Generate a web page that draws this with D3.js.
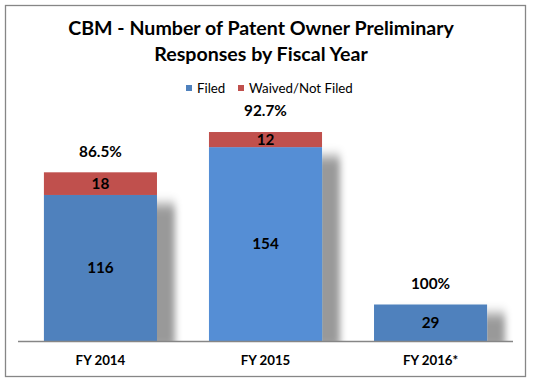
<!DOCTYPE html>
<html><head><meta charset="utf-8">
<script src="https://cdn.jsdelivr.net/npm/d3@7"></script>
<style>body{margin:0;background:#fff}svg{display:block}text{font-family:Lato,"Open Sans",sans-serif}</style>
</head><body>
<svg id="c" width="533" height="383"></svg>
<script>
const categories = ["FY 2014", "FY 2015", "FY 2016*"];
const filed = [116, 154, 29];
const waived = [18, 12, 0];
const pctLabels = ["86.5%", "92.7%", "100%"];
const filedColors = ["#4F81BD", "#558ED5", "#4F81BD"];
const titleLines = ["CBM - Number of Patent Owner Preliminary", "Responses by Fiscal Year"];
const legendItems = [{name: "Filed", color: "#4F81BD"}, {name: "Waived/Not Filed", color: "#C0504D"}];

const svg = d3.select("#c");
const plot = {left: 18, right: 513, top: 114.4, bottom: 341};

const defs = svg.append("defs");
const f = defs.append("filter").attr("id", "sh").attr("x", "-40%").attr("y", "-40%").attr("width", "180%").attr("height", "180%");
f.append("feDropShadow").attr("dx", 18).attr("dy", 9).attr("stdDeviation", "3.5 6")
  .attr("flood-color", "#000").attr("flood-opacity", 0.4);
defs.append("clipPath").attr("id", "pc").append("rect")
  .attr("x", plot.left).attr("y", 0).attr("width", plot.right - plot.left).attr("height", plot.bottom);

svg.append("rect").attr("x", 5.5).attr("y", 5.5).attr("width", 520).attr("height", 371)
  .attr("fill", "#fff").attr("stroke", "#868686").attr("stroke-width", 1.3);

const x = d3.scaleBand().domain(categories).range([plot.left, plot.right]).paddingInner(0.315).paddingOuter(0.157);
const y = d3.scaleLinear().domain([0, 180]).range([plot.bottom, plot.top]);

// title
svg.append("g").selectAll("text").data(titleLines).join("text")
  .attr("x", 261).attr("y", (d, i) => 35 + i * 26)
  .attr("text-anchor", "middle").attr("font-size", 19.6).attr("font-weight", "bold").attr("fill", "#000")
  .text(d => d);

// legend
const lg = svg.append("g");
const legX = [186, 238];
legendItems.forEach((it, i) => {
  lg.append("rect").attr("x", legX[i]).attr("y", 85).attr("width", 6).attr("height", 6).attr("fill", it.color);
  lg.append("text").attr("x", legX[i] + 11).attr("y", 92.5).attr("font-size", 13.3).attr("fill", "#000").text(it.name);
});

const g = svg.append("g").attr("clip-path", "url(#pc)");
// filed bars with shadow
g.selectAll("rect.filed").data(categories).join("rect").attr("class", "filed")
  .attr("x", d => x(d)).attr("width", x.bandwidth())
  .attr("y", (d, i) => y(filed[i])).attr("height", (d, i) => y(0) - y(filed[i]))
  .attr("fill", (d, i) => filedColors[i]).attr("filter", "url(#sh)");
// waived bars
g.selectAll("rect.waived").data(categories).join("rect").attr("class", "waived")
  .attr("x", d => x(d)).attr("width", x.bandwidth())
  .attr("y", (d, i) => y(filed[i] + waived[i])).attr("height", (d, i) => y(filed[i]) - y(filed[i] + waived[i]))
  .attr("fill", "#C0504D");

// axis
const ax = svg.append("g").attr("transform", `translate(0,${plot.bottom})`)
  .call(d3.axisBottom(x).tickSize(0).tickPadding(15));
ax.select(".domain").attr("stroke", "#868686").attr("stroke-width", 1.3).attr("d", `M${plot.left},0.5H${plot.right}`);
ax.selectAll("text").attr("font-size", 13.3).attr("font-weight", "bold").attr("fill", "#000")
  .attr("font-family", "Lato, 'Open Sans', sans-serif");

// value labels
const lab = svg.append("g").attr("font-weight", "bold").attr("fill", "#000").attr("text-anchor", "middle");
categories.forEach((c, i) => {
  const cx = x(c) + x.bandwidth() / 2;
  lab.append("text").attr("x", cx).attr("y", (y(0) + y(filed[i])) / 2).attr("dy", "0.35em")
    .attr("font-size", 15.3).text(filed[i]);
  if (waived[i] > 0) {
    lab.append("text").attr("x", cx).attr("y", (y(filed[i]) + y(filed[i] + waived[i])) / 2).attr("dy", "0.35em")
      .attr("font-size", 15.3).text(waived[i]);
  }
  lab.append("text").attr("x", cx).attr("y", y(filed[i] + waived[i]) - 21).attr("dy", "0.35em")
    .attr("font-size", 15.3).text(pctLabels[i]);
});
</script>
</body></html>
